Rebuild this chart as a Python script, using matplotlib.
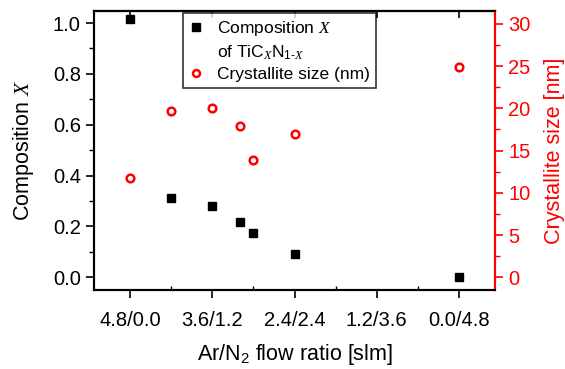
import matplotlib
matplotlib.use('Agg')
import matplotlib.pyplot as plt
from matplotlib.lines import Line2D
from matplotlib.ticker import MultipleLocator, FixedLocator

plt.rcParams['font.family'] = ['Liberation Sans', 'DejaVu Sans']
plt.rcParams['mathtext.fontset'] = 'custom'
plt.rcParams['mathtext.it'] = 'Liberation Serif:italic'
plt.rcParams['mathtext.rm'] = 'Liberation Sans'

# N2 flow in slm (Ar = 4.8 - N2)
n2_flow = [0.0, 0.6, 1.2, 1.6, 1.8, 2.4, 4.8]
composition = [1.016, 0.311, 0.281, 0.218, 0.173, 0.092, 0.0]
cryst_size = [11.8, 19.7, 20.0, 17.95, 13.85, 16.9, 24.9]
tick_pos = [0.0, 1.2, 2.4, 3.6, 4.8]
tick_labels = ['4.8/0.0', '3.6/1.2', '2.4/2.4', '1.2/3.6', '0.0/4.8']

fig = plt.figure(figsize=(5.65, 3.69), dpi=100)
ax = fig.add_axes([0.1664, 0.214, 0.7097, 0.756])
ax2 = ax.twinx()

ax.plot(n2_flow, composition, 's', color='black', markersize=6, linestyle='none')
ax2.plot(n2_flow, cryst_size, 'o', color='none', markeredgecolor='red',
         markerfacecolor='white', markersize=5.5, markeredgewidth=1.8, linestyle='none')

ax.set_xlim(-0.525, 5.325)
ax.set_ylim(-0.05, 1.047)
ax2.set_ylim(-1.5, 31.5)

ax.set_xticks(tick_pos)
ax.set_xticklabels(tick_labels)
ax.xaxis.set_minor_locator(FixedLocator([0.6, 1.8, 3.0, 4.2]))
ax.yaxis.set_major_locator(MultipleLocator(0.2))
ax.yaxis.set_minor_locator(MultipleLocator(0.1))
ax2.yaxis.set_major_locator(MultipleLocator(5))
ax2.yaxis.set_minor_locator(MultipleLocator(2.5))

ax.tick_params(axis='both', which='major', labelsize=14.5, direction='out', length=6, width=1.2)
ax.tick_params(axis='y', which='minor', direction='out', length=3.5, width=1)
ax.tick_params(axis='x', which='minor', direction='in', length=3, width=1)
ax.tick_params(axis='x', which='major', pad=9)
ax2.tick_params(axis='y', which='major', colors='red', labelsize=14.5, direction='out', length=6, width=1.2)
ax2.tick_params(axis='y', which='minor', colors='red', direction='out', length=3.5, width=1)

# top axis: inward ticks at the major positions, no labels
ax_top = ax.secondary_xaxis('top')
ax_top.set_xticks(tick_pos)
ax_top.tick_params(direction='in', length=5, width=1.2, labeltop=False)
ax_top.spines['top'].set_linewidth(1.5)

for sp in ax.spines.values():
    sp.set_linewidth(1.5)
for sp in ax2.spines.values():
    sp.set_linewidth(1.5)
ax2.spines['right'].set_color('red')

ax.set_ylabel('Composition $X$', fontsize=15.5, labelpad=12)
ax2.set_ylabel('Crystallite size [nm]', fontsize=15.5, color='red', labelpad=10)
ax.set_xlabel('Ar/N$_{2}$ flow ratio [slm]', fontsize=15.5, labelpad=9)

handles = [
    Line2D([], [], marker='s', color='black', linestyle='none', markersize=6),
    Line2D([], [], linestyle='none'),
    Line2D([], [], marker='o', color='red', markerfacecolor='white',
           linestyle='none', markersize=5, markeredgewidth=1.8),
]
labels = ['Composition $X$', 'of TiC$_{X}$N$_{1\u2010X}$', 'Crystallite size (nm)']
leg = ax.legend(handles, labels, loc='upper left', bbox_to_anchor=(0.222, 0.993),
                fontsize=12.5, frameon=True, fancybox=False, edgecolor='black',
                handlelength=0.8, handletextpad=0.8, labelspacing=0.3,
                borderpad=0.35, borderaxespad=0)
leg.get_frame().set_linewidth(1.2)
leg.set_zorder(5)

fig.savefig('out.png', dpi=100, facecolor='white')
